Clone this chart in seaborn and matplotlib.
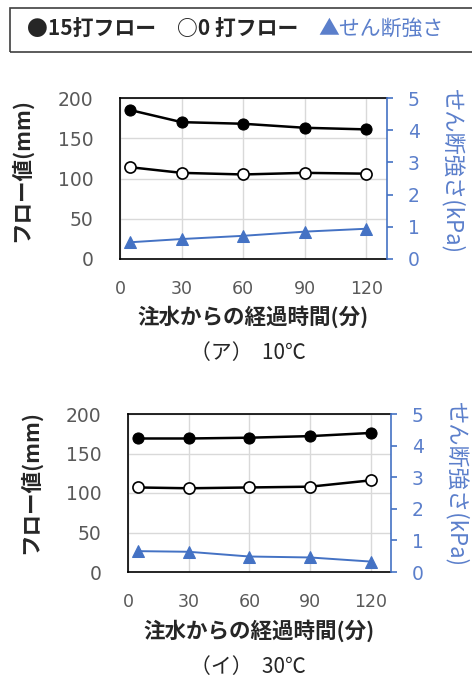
import matplotlib.pyplot as plt
import matplotlib.patches as mpatches
import seaborn as sns

# データ
minutes = [5, 30, 60, 90, 120]

flow15_10c = [185, 170, 168, 163, 161]
flow0_10c = [114, 107, 105, 107, 106]
shear_10c = [0.52, 0.62, 0.72, 0.85, 0.94]

flow15_30c = [169, 169, 170, 172, 176]
flow0_30c = [107, 106, 107, 108, 116]
shear_30c = [0.66, 0.64, 0.49, 0.46, 0.33]

x_ticks = [0, 30, 60, 90, 120]
flow_ticks = [0, 50, 100, 150, 200]
shear_ticks = [0, 1, 2, 3, 4, 5]

captions = ['（ア）  10℃', '（イ）  30℃']

sns.set_style("white")
plt.rcParams['font.family'] = ['Noto Sans CJK JP', 'DejaVu Sans']

BLUE = '#4472C4'
BLUE_TXT = '#5B7FCB'
GRAY_TXT = '#595959'
W, H = 472, 679

fig = plt.figure(figsize=(W / 100, H / 100), dpi=100)


def px_rect(left, top, right, bottom):
    return [left / W, 1 - bottom / H, (right - left) / W, (bottom - top) / H]


def draw_panel(rect, flow15, flow0, shear, xlab_y, cap_y, caption, ylab_pos, y2lab_pos):
    ax = fig.add_axes(rect)
    ax2 = ax.twinx()

    sns.lineplot(x=minutes, y=flow15, ax=ax, color='black', lw=1.8,
                 marker='o', markersize=8, markerfacecolor='black',
                 markeredgecolor='black', zorder=3)
    sns.lineplot(x=minutes, y=flow0, ax=ax, color='black', lw=1.8,
                 marker='o', markersize=8, markerfacecolor='white',
                 markeredgecolor='black', markeredgewidth=1.2, zorder=3)
    sns.lineplot(x=minutes, y=shear, ax=ax2, color=BLUE, lw=1.4,
                 marker='^', markersize=8, markerfacecolor=BLUE,
                 markeredgecolor=BLUE, zorder=3)

    ax.set_xlim(0, 130)
    ax.set_ylim(0, 200)
    ax2.set_ylim(0, 5)
    ax.set_xticks(x_ticks)
    ax.set_yticks(flow_ticks)
    ax2.set_yticks(shear_ticks)

    ax.grid(True, color='#d9d9d9', lw=1.0)
    ax.set_axisbelow(True)

    for s in ['left', 'top', 'bottom']:
        ax.spines[s].set_color('black')
        ax.spines[s].set_linewidth(1.2)
    ax.spines['right'].set_visible(False)
    for s in ['left', 'top', 'bottom']:
        ax2.spines[s].set_visible(False)
    ax2.spines['right'].set_color(BLUE)
    ax2.spines['right'].set_linewidth(1.2)

    ax.tick_params(axis='y', length=0, pad=19, labelcolor=GRAY_TXT)
    ax.tick_params(axis='x', length=0, pad=15, labelcolor=GRAY_TXT)
    ax2.tick_params(axis='y', length=4, width=1.2, color=BLUE, direction='out',
                    pad=11, labelcolor=BLUE_TXT)
    # 数字は幅の広い DejaVu Sans で
    for lab in ax.get_yticklabels() + ax2.get_yticklabels():
        lab.set_fontfamily('DejaVu Sans')
        lab.set_fontsize(13.5)
    for lab in ax.get_xticklabels():
        lab.set_fontfamily('DejaVu Sans')
        lab.set_fontsize(12.5)

    ax.set_xlabel('注水からの経過時間(分)', fontsize=15.5, fontweight='bold')
    ax.xaxis.set_label_coords(0.5, xlab_y)
    ax.set_ylabel('フロー値(mm)', fontsize=15.5, fontweight='bold')
    ax.yaxis.set_label_coords(*ylab_pos)
    ax2.set_ylabel('せん断強さ(kPa)', fontsize=16, color=BLUE_TXT, rotation=270,
                   va='center')
    ax2.yaxis.set_label_coords(*y2lab_pos)

    fig.text(0.525, 1 - cap_y / H, caption, fontsize=15, ha='center', va='center')
    return ax, ax2


draw_panel(px_rect(120, 98, 387, 259), flow15_10c, flow0_10c, shear_10c,
           -0.29, 353, captions[0], (-0.33, 0.55), (1.245, 0.55))
draw_panel(px_rect(128, 414, 391, 572), flow15_30c, flow0_30c, shear_30c,
           -0.30, 667, captions[1], (-0.33, 0.57), (1.25, 0.56))

# 凡例ボックス
fig.patches.append(mpatches.Rectangle((10 / W, 1 - 52 / H), 470 / W, 44 / H,
                                      transform=fig.transFigure, fill=False,
                                      edgecolor='#404040', lw=1.2))
ly = 1 - 29 / H
fig.text(27 / W, ly, '●15打フロー', fontsize=15, fontweight='bold', va='center')
fig.text(177 / W, ly, '○0 打フロー', fontsize=15, fontweight='bold', va='center')
fig.text(318 / W, ly, '▲せん断強さ', fontsize=15, color=BLUE_TXT, va='center')

fig.savefig('out.png', dpi=100)
